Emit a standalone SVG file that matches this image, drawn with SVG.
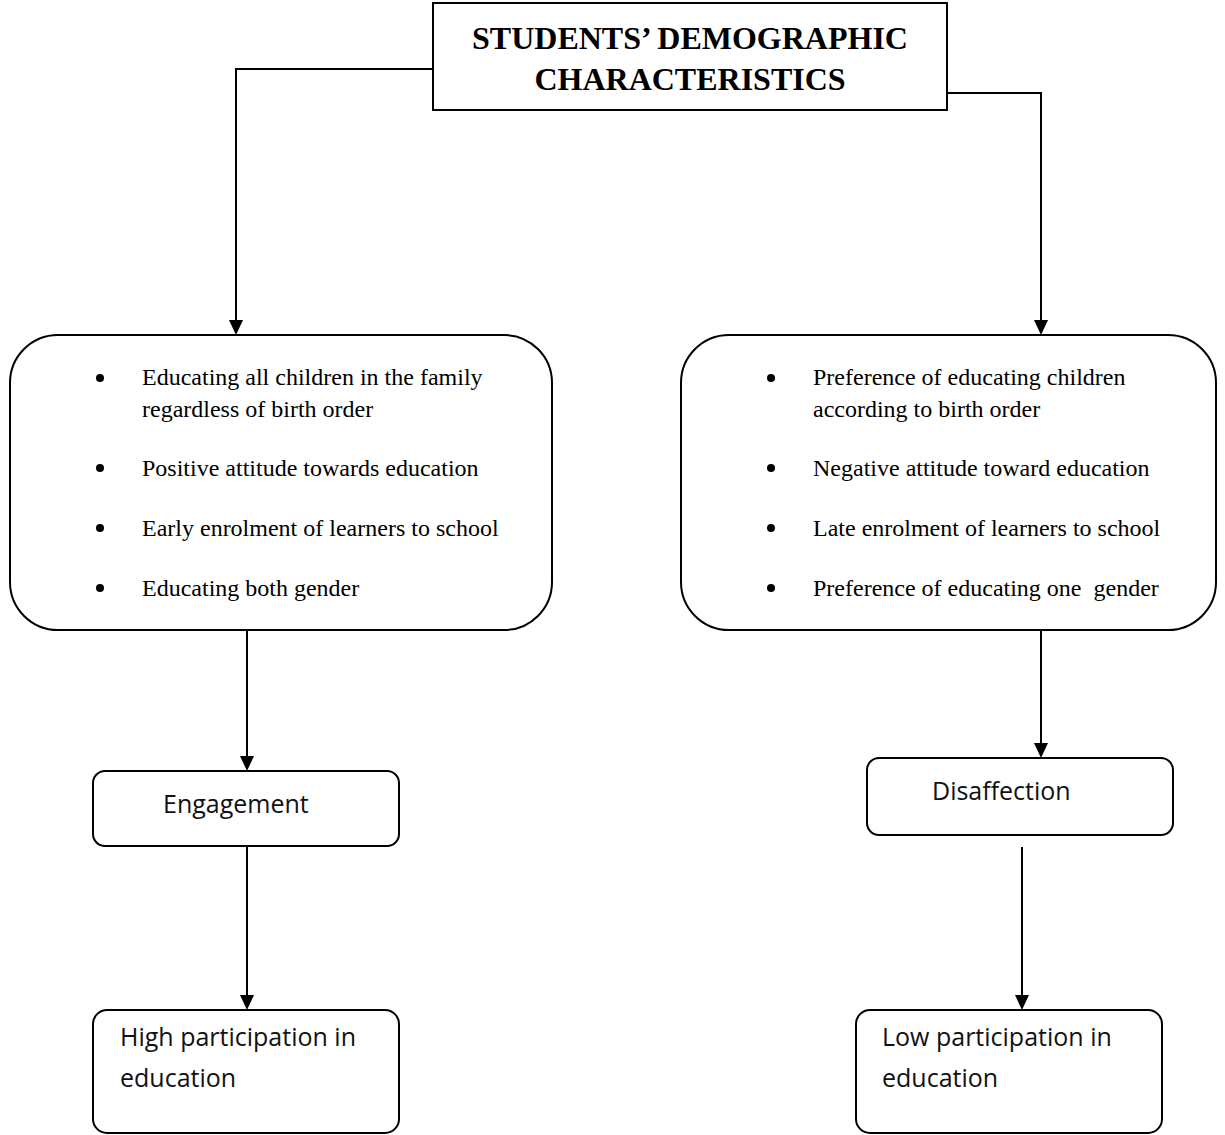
<svg xmlns="http://www.w3.org/2000/svg" width="1225" height="1135" viewBox="0 0 1225 1135">
<style>
.box{fill:#fff;stroke:#000;stroke-width:2}
.ser{font-family:"Liberation Serif","Times New Roman",serif;font-size:24px;fill:#000}
.ttl{font-family:"Liberation Serif","Times New Roman",serif;font-size:32px;font-weight:bold;fill:#000}
.san{font-family:"Open Sans","Liberation Sans",Arial,sans-serif;font-size:25px;fill:#111}
.ln{fill:none;stroke:#000;stroke-width:2}
.ah{fill:#000}
</style>
<g id="connectors">
<path class="ln" d="M433,69 H236 V322"/>
<path class="ln" d="M947,93 H1041 V322"/>
<path class="ln" d="M247,631 V757"/>
<path class="ln" d="M1041,631 V744"/>
<path class="ln" d="M247,846 V997"/>
<path class="ln" d="M1022,847 V997"/>
<path class="ah" d="M229,320 L243,320 L236,335 Z"/>
<path class="ah" d="M1034,320 L1048,320 L1041,335 Z"/>
<path class="ah" d="M240,756 L254,756 L247,771 Z"/>
<path class="ah" d="M1034,743 L1048,743 L1041,758 Z"/>
<path class="ah" d="M240,995 L254,995 L247,1010 Z"/>
<path class="ah" d="M1015,995 L1029,995 L1022,1010 Z"/>
</g>
<g id="title">
<rect class="box" x="433" y="3" width="514" height="107"/>
<text class="ttl" x="690" y="49" text-anchor="middle">STUDENTS’ DEMOGRAPHIC</text>
<text class="ttl" x="690" y="90" text-anchor="middle">CHARACTERISTICS</text>
</g>
<g id="positive">
<rect class="box" x="10" y="335" width="542" height="295" rx="48" ry="48"/>
<circle cx="100" cy="378" r="4"/>
<text class="ser" x="142" y="385">Educating all children in the family</text>
<text class="ser" x="142" y="417">regardless of birth order</text>
<circle cx="100" cy="468" r="4"/>
<text class="ser" x="142" y="476">Positive attitude towards education</text>
<circle cx="100" cy="528" r="4"/>
<text class="ser" x="142" y="536">Early enrolment of learners to school</text>
<circle cx="100" cy="588" r="4"/>
<text class="ser" x="142" y="596">Educating both gender</text>
</g>
<g id="negative">
<rect class="box" x="681" y="335" width="535" height="295" rx="48" ry="48"/>
<circle cx="771" cy="378" r="4"/>
<text class="ser" x="813" y="385">Preference of educating children</text>
<text class="ser" x="813" y="417">according to birth order</text>
<circle cx="771" cy="468" r="4"/>
<text class="ser" x="813" y="476">Negative attitude toward education</text>
<circle cx="771" cy="528" r="4"/>
<text class="ser" x="813" y="536">Late enrolment of learners to school</text>
<circle cx="771" cy="588" r="4"/>
<text class="ser" x="813" y="596" xml:space="preserve">Preference of educating one  gender</text>
</g>
<g id="engagement">
<rect class="box" x="93" y="771" width="306" height="75" rx="12" ry="12"/>
<text class="san" x="163" y="813">Engagement</text>
</g>
<g id="disaffection">
<rect class="box" x="867" y="758" width="306" height="77" rx="12" ry="12"/>
<text class="san" x="932" y="800">Disaffection</text>
</g>
<g id="high">
<rect class="box" x="93" y="1010" width="306" height="123" rx="14" ry="14"/>
<text class="san" x="120" y="1046">High participation in</text>
<text class="san" x="120" y="1087">education</text>
</g>
<g id="low">
<rect class="box" x="856" y="1010" width="306" height="123" rx="14" ry="14"/>
<text class="san" x="882" y="1046">Low participation in</text>
<text class="san" x="882" y="1087">education</text>
</g>
</svg>
